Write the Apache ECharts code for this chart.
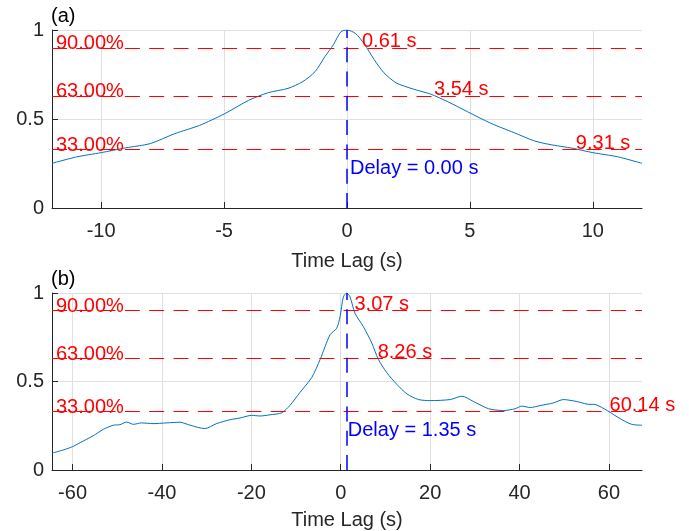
<!DOCTYPE html>
<html><head><meta charset="utf-8">
<script src="https://cdn.jsdelivr.net/npm/echarts@6/dist/echarts.min.js"></script>
<style>html,body{margin:0;padding:0;background:#fff}#c{width:689px;height:531px}</style>
</head><body><div id="c"></div>
<script>
// ---- data ----
const lagA = [-12, -11, -10, -9, -8, -7, -6, -5, -4, -3.2, -2.4, -1.8, -1.3, -0.9, -0.55, -0.25, 0, 0.35, 0.7, 1.1, 1.5, 2.0, 2.7, 3.4, 4.1, 4.9, 5.85, 6.8, 7.6, 8.2, 9.2, 10, 11, 12];
const corrA = [0.251, 0.287, 0.311, 0.338, 0.362, 0.418, 0.464, 0.528, 0.605, 0.648, 0.672, 0.71, 0.766, 0.85, 0.918, 0.99, 1.0, 0.98, 0.922, 0.835, 0.76, 0.703, 0.668, 0.64, 0.597, 0.541, 0.476, 0.423, 0.378, 0.358, 0.335, 0.311, 0.288, 0.251];
const lagB = [-64.6, -62.1, -60, -57.6, -55.4, -53.1, -50.9, -49.4, -47.9, -46.4, -44.6, -42, -39, -36, -33.7, -30.4, -27.8, -24.8, -22.5, -19.9, -18.1, -15.8, -13.2, -11.4, -9.1, -6.5, -4.6, -2.4, -0.9, -0.16, 0.59, 1.35, 2.08, 3.2, 5.06, 6.94, 8.42, 10.3, 12.5, 14.8, 17.4, 20, 24.5, 27.1, 29.7, 33.1, 36.4, 39, 40.5, 42.4, 44.6, 47.6, 49.8, 52.8, 55.1, 56.9, 59.6, 62.5, 65.1, 67.4];
const corrB = [0.095, 0.113, 0.132, 0.164, 0.193, 0.23, 0.253, 0.256, 0.271, 0.258, 0.266, 0.262, 0.266, 0.27, 0.253, 0.234, 0.262, 0.284, 0.294, 0.309, 0.305, 0.312, 0.323, 0.364, 0.439, 0.522, 0.625, 0.764, 0.801, 0.866, 0.978, 1.0, 0.978, 0.885, 0.81, 0.718, 0.625, 0.55, 0.485, 0.43, 0.398, 0.392, 0.398, 0.417, 0.387, 0.346, 0.336, 0.346, 0.361, 0.353, 0.364, 0.379, 0.398, 0.387, 0.372, 0.37, 0.336, 0.29, 0.258, 0.253];
const thresholds = [0.9, 0.63, 0.33];
const crossA = [0.61, 3.54, 9.31];
const crossB = [3.07, 8.26, 60.14];
const delayA = 0.00;
const delayB = 1.35;
const xRangeA = [-12, 12];
const xRangeB = [-64.6, 67.4];
const xTicksA = [-10, -5, 0, 5, 10];
const xTicksB = [-60, -40, -20, 0, 20, 40, 60];
const panelTitles = ['(a)', '(b)'];
const xName = 'Time Lag (s)';

// ---- styles ----
const FONT = '"Liberation Sans", Arial, Helvetica, sans-serif';
const AX = '#262626';
const GRIDC = '#e0e0e0';

function xAxis(idx, range, ticks, gap) {
  return {
    type: 'value', gridIndex: idx, min: range[0], max: range[1],
    name: xName, nameLocation: 'middle', nameGap: gap,
    nameTextStyle: { color: AX, fontSize: 20, fontFamily: FONT },
    axisLine: { show: true, onZero: false, lineStyle: { color: AX, width: 1 } },
    axisTick: { show: true, inside: true, length: 6, customValues: ticks, lineStyle: { color: AX } },
    axisLabel: { customValues: ticks, color: AX, fontSize: 20, fontFamily: FONT, margin: 13 },
    splitLine: { show: true, lineStyle: { color: GRIDC, width: 1 } }
  };
}
function yAxis(idx) {
  return {
    type: 'value', gridIndex: idx, min: 0, max: 1, interval: 0.5,
    axisLine: { show: true, onZero: false, lineStyle: { color: AX, width: 1 } },
    axisTick: { show: true, inside: true, length: 6, lineStyle: { color: AX } },
    axisLabel: { color: AX, fontSize: 20, fontFamily: FONT, margin: 8 },
    splitLine: { show: true, lineStyle: { color: GRIDC, width: 1 } }
  };
}
function panelSeries(idx, lags, vals, range, cross, delay, delayDist) {
  const pts = lags.map((x, i) => [x, vals[i]]);
  const redLine = { color: '#ff0000', width: 1, type: [15, 9.3] };
  const lbl = (extra) => Object.assign({ show: true, position: 'right', color: '#ff0000', opacity: 1, fontSize: 20, fontFamily: FONT }, extra);
  const scat = { type: 'scatter', xAxisIndex: idx, yAxisIndex: idx, symbolSize: 0, silent: true, z: 4, itemStyle: { opacity: 1 } };
  return [
    {
      type: 'line', xAxisIndex: idx, yAxisIndex: idx, data: pts, showSymbol: false,
      smooth: 0.25, lineStyle: { color: '#0072BD', width: 1 }, z: 3,
      markLine: {
        silent: true, symbol: ['none', 'none'], label: { show: false }, animation: false,
        data: thresholds.map(t => ({ yAxis: t, lineStyle: redLine }))
          .concat([{ xAxis: delay, lineStyle: { color: '#0000ff', width: 1.5, type: [15, 9.3] } }])
      }
    },
    Object.assign({}, scat, {
      data: thresholds.map(t => ({ value: [range[0], t], name: (t * 100).toFixed(2) + '%' })),
      label: lbl({ distance: 4, offset: [0, -4], formatter: '{b}' })
    }),
    Object.assign({}, scat, {
      data: cross.map((c, i) => ({ value: [c, thresholds[i]], name: c.toFixed(2) + ' s' })),
      label: lbl({ distance: 0, offset: [0, -6], formatter: '{b}' })
    }),
    Object.assign({}, scat, {
      data: [{ value: [delay, 0.2], name: 'Delay = ' + delay.toFixed(2) + ' s' }],
      label: lbl({ color: '#0000ff', distance: delayDist, offset: [0, -4], formatter: '{b}' })
    })
  ];
}

const chart = echarts.init(document.getElementById('c'), null, { renderer: 'canvas' });
chart.setOption({
  animation: false,
  backgroundColor: '#ffffff',
  title: [
    { text: panelTitles[0], left: 51, top: 6, padding: 0, textStyle: { fontSize: 20, fontWeight: 'normal', color: '#000', fontFamily: FONT } },
    { text: panelTitles[1], left: 51, top: 269, padding: 0, textStyle: { fontSize: 20, fontWeight: 'normal', color: '#000', fontFamily: FONT } }
  ],
  grid: [
    { left: 52, right: 47, top: 30, height: 178, containLabel: false },
    { left: 52, right: 47, top: 293, height: 179, containLabel: false }
  ],
  xAxis: [xAxis(0, xRangeA, xTicksA, 43), xAxis(1, xRangeB, xTicksB, 40)],
  yAxis: [yAxis(0), yAxis(1)],
  series: panelSeries(0, lagA, corrA, xRangeA, crossA, delayA, 3)
    .concat(panelSeries(1, lagB, corrB, xRangeB, crossB, delayB, 1))
});
</script>
</body></html>
